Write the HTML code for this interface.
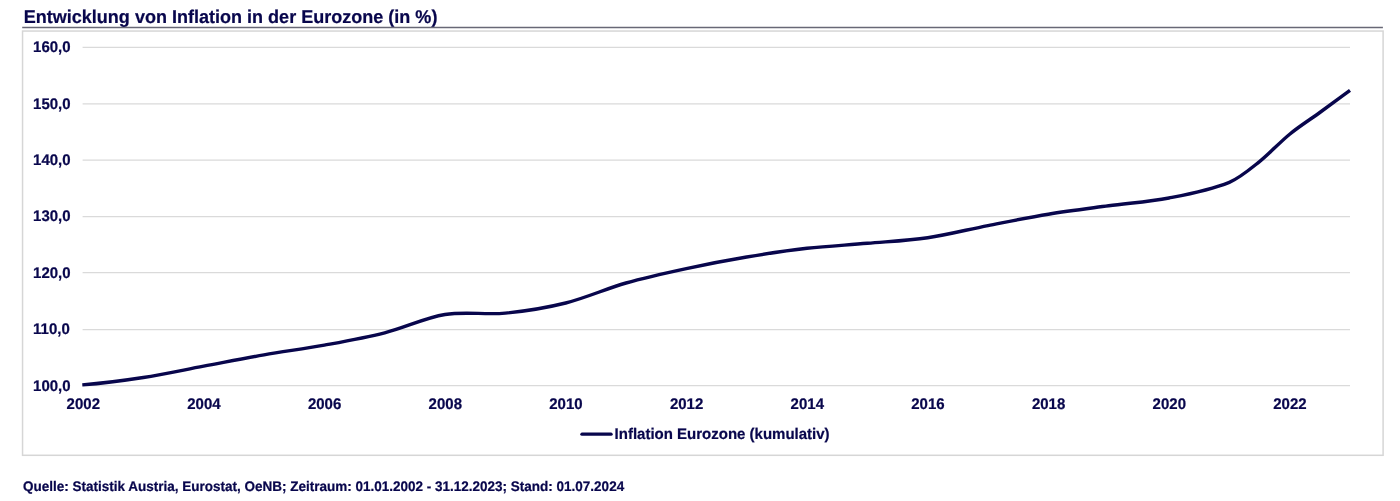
<!DOCTYPE html>
<html lang="de">
<head>
<meta charset="utf-8">
<title>Entwicklung von Inflation in der Eurozone (in %)</title>
<style>
html,body{margin:0;padding:0;background:#fff;}
body{width:1400px;height:501px;position:relative;overflow:hidden;font-family:"Liberation Sans",Arial,sans-serif;font-weight:bold;color:#08064c;text-rendering:geometricPrecision;}
svg{position:absolute;left:0;top:0;}
.t{position:absolute;white-space:nowrap;transform:scaleY(1.025);-webkit-text-stroke:0.22px #08064c;}
</style>
</head>
<body>
<svg width="1400" height="501" viewBox="0 0 1400 501">
<line x1="22.2" x2="1382.9" y1="27.5" y2="27.5" stroke="#686876" stroke-width="1.3"/>
<rect x="22.55" y="31.05" width="1360.55" height="424.25" fill="none" stroke="#d6d6d6" stroke-width="1.5"/>
<line x1="82.6" x2="1350" y1="385.70" y2="385.70" stroke="#dadada" stroke-width="1.2"/>
<line x1="82.6" x2="1350" y1="329.60" y2="329.60" stroke="#dadada" stroke-width="1.2"/>
<line x1="82.6" x2="1350" y1="272.65" y2="272.65" stroke="#dadada" stroke-width="1.2"/>
<line x1="82.6" x2="1350" y1="216.70" y2="216.70" stroke="#dadada" stroke-width="1.2"/>
<line x1="82.6" x2="1350" y1="160.07" y2="160.07" stroke="#dadada" stroke-width="1.2"/>
<line x1="82.6" x2="1350" y1="103.90" y2="103.90" stroke="#dadada" stroke-width="1.2"/>
<line x1="82.6" x2="1350" y1="47.40" y2="47.40" stroke="#dadada" stroke-width="1.2"/>
<path d="M82.30 384.90 C102.64 383.27 122.99 380.63 143.33 377.50 C163.44 374.40 183.56 369.97 203.67 366.20 C223.78 362.43 243.89 358.42 264.00 354.90 C284.11 351.38 304.22 348.78 324.33 345.10 C344.44 341.42 364.56 337.90 384.67 332.80 C404.78 327.70 424.89 317.78 445.00 314.50 C465.11 311.22 485.22 315.02 505.33 313.10 C525.44 311.18 545.56 308.02 565.67 303.00 C585.78 297.98 605.89 288.73 626.00 283.00 C646.11 277.27 666.22 272.93 686.33 268.60 C706.44 264.28 726.56 260.43 746.67 257.05 C766.78 253.67 786.89 250.59 807.00 248.30 C827.11 246.01 847.22 245.07 867.33 243.30 C887.44 241.53 907.56 240.66 927.67 237.70 C947.78 234.74 967.89 229.47 988.00 225.55 C1008.11 221.63 1028.22 217.49 1048.33 214.20 C1068.44 210.91 1088.56 208.50 1108.67 205.80 C1128.78 203.10 1148.89 201.92 1169.00 198.00 C1189.11 194.08 1209.22 190.39 1229.33 182.30 C1239.39 178.26 1249.44 169.62 1259.50 161.60 C1269.56 153.58 1279.61 142.38 1289.67 134.20 C1299.72 126.02 1309.78 119.80 1319.83 112.50 C1329.89 105.20 1339.94 97.77 1350.00 90.40" fill="none" stroke="#08064c" stroke-width="3.4" stroke-linecap="butt" stroke-linejoin="round"/>
<line x1="582" x2="611" y1="434.15" y2="434.15" stroke="#08064c" stroke-width="3.4" stroke-linecap="round"/>
</svg>
<div class="t title" style="left:23.70px;top:6.95px;font-size:18.05px;line-height:20px;transform-origin:0 16.25px;">Entwicklung von Inflation in der Eurozone (in %)</div>
<div class="t yl" style="left:33.10px;top:378.00px;font-size:15px;line-height:18px;transform-origin:0 14.20px;">100,0</div>
<div class="t yl" style="left:33.10px;top:321.00px;font-size:15px;line-height:18px;transform-origin:0 14.20px;">110,0</div>
<div class="t yl" style="left:33.10px;top:265.00px;font-size:15px;line-height:18px;transform-origin:0 14.20px;">120,0</div>
<div class="t yl" style="left:33.10px;top:208.00px;font-size:15px;line-height:18px;transform-origin:0 14.20px;">130,0</div>
<div class="t yl" style="left:33.10px;top:152.00px;font-size:15px;line-height:18px;transform-origin:0 14.20px;">140,0</div>
<div class="t yl" style="left:33.10px;top:96.00px;font-size:15px;line-height:18px;transform-origin:0 14.20px;">150,0</div>
<div class="t yl" style="left:33.10px;top:39.00px;font-size:15px;line-height:18px;transform-origin:0 14.20px;">160,0</div>
<div class="t xl" style="left:53.30px;top:396.00px;font-size:15px;line-height:18px;transform-origin:0 14.20px;width:60px;text-align:center;">2002</div>
<div class="t xl" style="left:173.97px;top:396.00px;font-size:15px;line-height:18px;transform-origin:0 14.20px;width:60px;text-align:center;">2004</div>
<div class="t xl" style="left:294.63px;top:396.00px;font-size:15px;line-height:18px;transform-origin:0 14.20px;width:60px;text-align:center;">2006</div>
<div class="t xl" style="left:415.30px;top:396.00px;font-size:15px;line-height:18px;transform-origin:0 14.20px;width:60px;text-align:center;">2008</div>
<div class="t xl" style="left:535.97px;top:396.00px;font-size:15px;line-height:18px;transform-origin:0 14.20px;width:60px;text-align:center;">2010</div>
<div class="t xl" style="left:656.63px;top:396.00px;font-size:15px;line-height:18px;transform-origin:0 14.20px;width:60px;text-align:center;">2012</div>
<div class="t xl" style="left:777.30px;top:396.00px;font-size:15px;line-height:18px;transform-origin:0 14.20px;width:60px;text-align:center;">2014</div>
<div class="t xl" style="left:897.97px;top:396.00px;font-size:15px;line-height:18px;transform-origin:0 14.20px;width:60px;text-align:center;">2016</div>
<div class="t xl" style="left:1018.63px;top:396.00px;font-size:15px;line-height:18px;transform-origin:0 14.20px;width:60px;text-align:center;">2018</div>
<div class="t xl" style="left:1139.30px;top:396.00px;font-size:15px;line-height:18px;transform-origin:0 14.20px;width:60px;text-align:center;">2020</div>
<div class="t xl" style="left:1259.97px;top:396.00px;font-size:15px;line-height:18px;transform-origin:0 14.20px;width:60px;text-align:center;">2022</div>
<div class="t leg" style="left:614.60px;top:426.00px;font-size:15px;line-height:18px;transform-origin:0 14.20px;">Inflation Eurozone (kumulativ)</div>
<div class="t src" style="left:22.90px;top:478.52px;font-size:13.5px;line-height:16px;transform-origin:0 12.68px;">Quelle: Statistik Austria, Eurostat, OeNB; Zeitraum: 01.01.2002 - 31.12.2023; Stand: 01.07.2024</div>
</body>
</html>
